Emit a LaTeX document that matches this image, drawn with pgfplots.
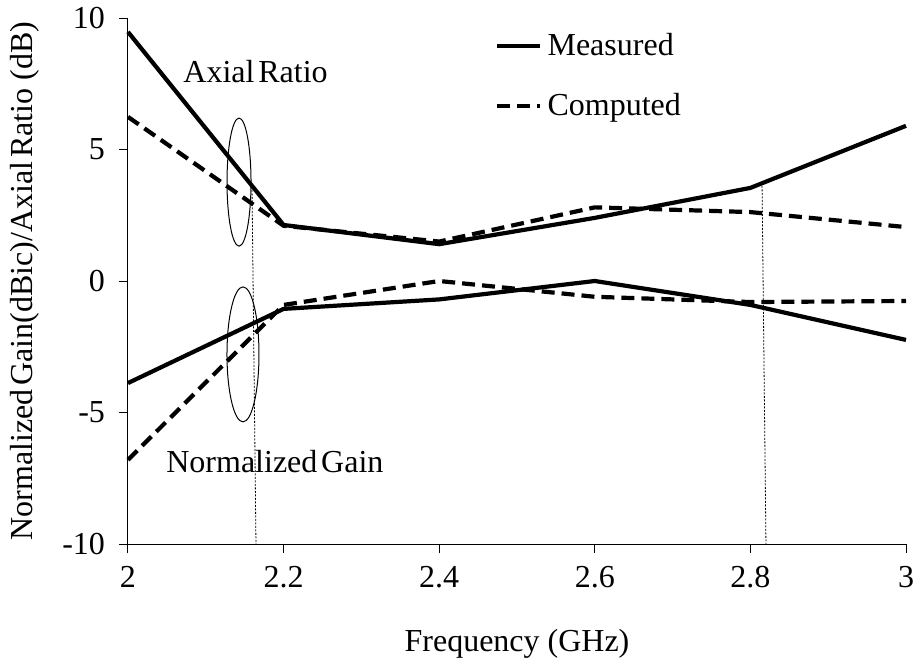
\documentclass[border=0pt]{standalone}
\usepackage{pgfplots}
\pgfplotsset{compat=1.18}
\usepackage{fontspec}
\setmainfont{Liberation Serif}
\newcommand\f{\fontsize{16}{19}\selectfont}
\newcommand\ts{\hspace{0.12em}}
\begin{document}
\begin{tikzpicture}
\begin{axis}[
  scale only axis, width=389pt, height=263pt,
  xmin=2, xmax=3, ymin=-10, ymax=10,
  axis x line=bottom, axis y line=left,
  axis line style={-, line width=0.5pt},
  xtick={2,2.2,2.4,2.6,2.8,3}, ytick={-10,-5,0,5,10},
  xticklabels={2,2.2,2.4,2.6,2.8,3},
  yticklabels={-10,-5,0,5,10},
  tick align=outside, major tick length=4.5pt,
  tick style={line width=0.5pt, black},
  tick label style={font=\f},
  xticklabel style={yshift=-3pt},
  yticklabel style={xshift=-3.5pt},
  xlabel={Frequency (GHz)},
  ylabel={Normalized\ts Gain(dBic)/Axial\ts Ratio (dB)},
  xlabel style={font=\f, at={(rel axis cs:0.5,0)}, anchor=center, yshift=-50pt},
  ylabel style={font=\f, at={(rel axis cs:0,0.5)}, anchor=center, rotate=0, yshift=51.5pt},
  clip=false,
  legend style={draw=none, fill=none, at={(rel axis cs:0.4717,0.972)}, anchor=north west,
    font=\f, row sep=17.5pt, inner sep=0pt, nodes={inner sep=0pt, inner xsep=2.5pt},
    legend cell align=left},
  legend image code/.code={\draw[#1] (0pt,0pt) -- (21.5pt,0pt);},
  measured/.style={black, line width=2.1pt},
  computed/.style={black, line width=2.1pt, dash pattern=on 6.5pt off 3.5pt},
]
\addplot[measured] coordinates {(2,9.47) (2.2,2.13) (2.4,1.4) (2.6,2.4) (2.8,3.54) (3,5.9)};
\addlegendentry{Measured}
\addplot[computed] coordinates {(2,6.24) (2.2,2.1) (2.4,1.5) (2.6,2.8) (2.8,2.62) (3,2.05)};
\addlegendentry{Computed}
\addplot[measured, forget plot] coordinates {(2,-3.88) (2.2,-1.06) (2.4,-0.7) (2.6,0) (2.8,-0.91) (3,-2.24)};
\addplot[computed, forget plot] coordinates {(2,-6.8) (2.2,-0.91) (2.4,0) (2.6,-0.6) (2.8,-0.8) (3,-0.76)};
\addplot[black, line width=0.4pt, dash pattern=on 1pt off 0.75pt, forget plot] coordinates {(2.1594,3.6) (2.1645,-10)};
\addplot[black, line width=0.4pt, dash pattern=on 1pt off 0.75pt, forget plot] coordinates {(2.815,3.62) (2.820,-10)};
\draw[black, line width=0.5pt] (axis cs:2.1427,3.76) ellipse [x radius=6pt, y radius=32pt];
\draw[black, line width=0.5pt] (axis cs:2.1478,-2.79) ellipse [x radius=8pt, y radius=33.75pt];
\node[font=\f, inner sep=0pt, anchor=base west] at (axis cs:2.0707,7.53) {Axial\ts Ratio};
\node[font=\f, inner sep=0pt, anchor=base west] at (axis cs:2.0488,-7.30) {Normalized\ts Gain};
\coordinate (O) at (rel axis cs:0,0);
\end{axis}
\pgfresetboundingbox
\path (O) ++(-64pt,-60pt) rectangle ++(458pt,332pt);
\end{tikzpicture}
\end{document}
